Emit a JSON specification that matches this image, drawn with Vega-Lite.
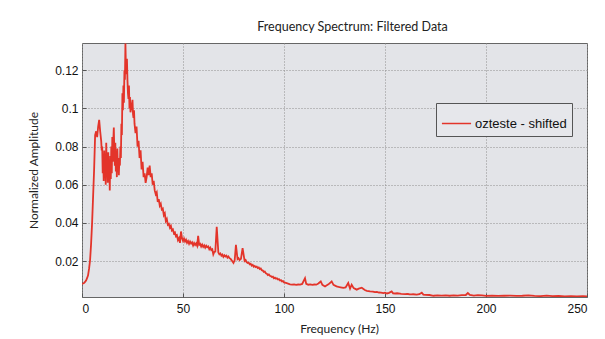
{
  "$schema": "https://vega.github.io/schema/vega-lite/v6.json",
  "width": 505,
  "height": 254,
  "autosize": {"type": "none"},
  "padding": {"left": 82, "top": 43, "right": 18, "bottom": 42},
  "background": "white",
  "title": {
    "text": "Frequency Spectrum: Filtered Data",
    "font": "Lato",
    "fontSize": 12.5,
    "fontWeight": "normal",
    "color": "#222",
    "anchor": "middle",
    "dx": 18,
    "offset": 10
  },
  "config": {
    "view": {"fill": "#e3e4e8", "stroke": "#666666", "strokeWidth": 1},
    "axis": {
      "domain": false,
      "grid": true,
      "gridColor": "#8f8f8f",
      "gridDash": [1, 2],
      "gridWidth": 1,
      "ticks": true,
      "tickColor": "#555",
      "tickSize": -4,
      "labelFont": "Liberation Sans",
      "labelFontSize": 12,
      "labelColor": "#111",
      "titleFont": "Lato",
      "titleFontSize": 12,
      "titleFontWeight": "normal",
      "titleColor": "#222"
    }
  },
  "data": {
    "values": [
      {"f": 0, "v": 0.0080}, {"f": 0.5, "v": 0.0082}, {"f": 1, "v": 0.0085}, {"f": 1.5, "v": 0.0090},
      {"f": 2, "v": 0.0098}, {"f": 2.5, "v": 0.0110}, {"f": 3, "v": 0.0125}, {"f": 3.5, "v": 0.0160},
      {"f": 4, "v": 0.0205}, {"f": 4.5, "v": 0.0290}, {"f": 5, "v": 0.0400}, {"f": 5.5, "v": 0.0540},
      {"f": 6, "v": 0.0680}, {"f": 6.5, "v": 0.0860}, {"f": 7, "v": 0.0880}, {"f": 7.5, "v": 0.0850},
      {"f": 8, "v": 0.0905}, {"f": 8.5, "v": 0.0940}, {"f": 9, "v": 0.0880}, {"f": 9.5, "v": 0.0830},
      {"f": 9.75, "v": 0.0780}, {"f": 10, "v": 0.0800}, {"f": 10.25, "v": 0.0660}, {"f": 10.5, "v": 0.0740},
      {"f": 10.75, "v": 0.0620}, {"f": 11, "v": 0.0780}, {"f": 11.25, "v": 0.0650}, {"f": 11.5, "v": 0.0720},
      {"f": 11.75, "v": 0.0600}, {"f": 12, "v": 0.0820}, {"f": 12.25, "v": 0.0680}, {"f": 12.5, "v": 0.0740},
      {"f": 12.75, "v": 0.0610}, {"f": 13, "v": 0.0770}, {"f": 13.25, "v": 0.0640}, {"f": 13.5, "v": 0.0700},
      {"f": 13.75, "v": 0.0570}, {"f": 14, "v": 0.0750}, {"f": 14.25, "v": 0.0630}, {"f": 14.5, "v": 0.0800},
      {"f": 14.75, "v": 0.0660}, {"f": 15, "v": 0.0850}, {"f": 15.25, "v": 0.0720}, {"f": 15.5, "v": 0.0830},
      {"f": 15.75, "v": 0.0900}, {"f": 16, "v": 0.0780}, {"f": 16.25, "v": 0.0700}, {"f": 16.5, "v": 0.0820},
      {"f": 16.75, "v": 0.0670}, {"f": 17, "v": 0.0760}, {"f": 17.25, "v": 0.0640}, {"f": 17.5, "v": 0.0790},
      {"f": 17.75, "v": 0.0680}, {"f": 18, "v": 0.0730}, {"f": 18.25, "v": 0.0650}, {"f": 18.5, "v": 0.0740},
      {"f": 18.75, "v": 0.0700}, {"f": 19, "v": 0.0800}, {"f": 19.25, "v": 0.0740}, {"f": 19.5, "v": 0.0920},
      {"f": 19.75, "v": 0.0860}, {"f": 20, "v": 0.1080}, {"f": 20.25, "v": 0.0990}, {"f": 20.5, "v": 0.1120},
      {"f": 20.75, "v": 0.1030}, {"f": 21, "v": 0.1200}, {"f": 21.25, "v": 0.1150}, {"f": 21.5, "v": 0.1340},
      {"f": 21.75, "v": 0.1210}, {"f": 22, "v": 0.1180}, {"f": 22.25, "v": 0.1260}, {"f": 22.5, "v": 0.1150},
      {"f": 22.75, "v": 0.1080}, {"f": 23, "v": 0.1050}, {"f": 23.25, "v": 0.1120}, {"f": 23.5, "v": 0.1000},
      {"f": 23.75, "v": 0.1060}, {"f": 24, "v": 0.0980}, {"f": 24.5, "v": 0.1010}, {"f": 25, "v": 0.1045},
      {"f": 25.25, "v": 0.0970}, {"f": 25.5, "v": 0.0950}, {"f": 25.75, "v": 0.0990},
      {"f": 26, "v": 0.0920}, {"f": 26.5, "v": 0.0870}, {"f": 27, "v": 0.0905}, {"f": 27.5, "v": 0.0800},
      {"f": 28, "v": 0.0830}, {"f": 28.5, "v": 0.0740}, {"f": 29, "v": 0.0780}, {"f": 29.5, "v": 0.0680},
      {"f": 30, "v": 0.0720}, {"f": 30.5, "v": 0.0640}, {"f": 31, "v": 0.0660}, {"f": 31.5, "v": 0.0610},
      {"f": 32, "v": 0.0640}, {"f": 32.5, "v": 0.0690}, {"f": 33, "v": 0.0650}, {"f": 33.5, "v": 0.0700},
      {"f": 34, "v": 0.0640}, {"f": 34.5, "v": 0.0660}, {"f": 35, "v": 0.0600}, {"f": 35.5, "v": 0.0620},
      {"f": 36, "v": 0.0570}, {"f": 36.5, "v": 0.0550}, {"f": 37, "v": 0.0560}, {"f": 37.5, "v": 0.0510},
      {"f": 38, "v": 0.0525}, {"f": 38.5, "v": 0.0490}, {"f": 39, "v": 0.0500}, {"f": 39.5, "v": 0.0470},
      {"f": 40, "v": 0.0475}, {"f": 40.5, "v": 0.0440}, {"f": 41, "v": 0.0450}, {"f": 41.5, "v": 0.0410},
      {"f": 42, "v": 0.0420}, {"f": 42.5, "v": 0.0390}, {"f": 43, "v": 0.0395}, {"f": 43.5, "v": 0.0375},
      {"f": 44, "v": 0.0385}, {"f": 44.5, "v": 0.0360}, {"f": 45, "v": 0.0365}, {"f": 45.5, "v": 0.0345},
      {"f": 46, "v": 0.0350}, {"f": 46.5, "v": 0.0330}, {"f": 47, "v": 0.0335}, {"f": 47.5, "v": 0.0310},
      {"f": 48, "v": 0.0320}, {"f": 48.5, "v": 0.0295}, {"f": 49, "v": 0.0355}, {"f": 49.5, "v": 0.0320},
      {"f": 50, "v": 0.0305}, {"f": 50.5, "v": 0.0318}, {"f": 51, "v": 0.0302}, {"f": 51.5, "v": 0.0312},
      {"f": 52, "v": 0.0296}, {"f": 52.5, "v": 0.0305}, {"f": 53, "v": 0.0290}, {"f": 53.5, "v": 0.0302},
      {"f": 54, "v": 0.0292}, {"f": 54.5, "v": 0.0298}, {"f": 55, "v": 0.0282}, {"f": 55.5, "v": 0.0294},
      {"f": 56, "v": 0.0284}, {"f": 56.5, "v": 0.0292}, {"f": 57, "v": 0.0280},
      {"f": 57.5, "v": 0.0332}, {"f": 58, "v": 0.0285}, {"f": 58.5, "v": 0.0290}, {"f": 59, "v": 0.0276},
      {"f": 59.5, "v": 0.0286}, {"f": 60, "v": 0.0274}, {"f": 60.5, "v": 0.0282},
      {"f": 61, "v": 0.0270}, {"f": 61.5, "v": 0.0280}, {"f": 62, "v": 0.0272}, {"f": 62.5, "v": 0.0276},
      {"f": 63, "v": 0.0262}, {"f": 63.5, "v": 0.0270}, {"f": 64, "v": 0.0258}, {"f": 64.5, "v": 0.0262},
      {"f": 65, "v": 0.0235}, {"f": 65.5, "v": 0.0248}, {"f": 66, "v": 0.0250}, {"f": 66.7, "v": 0.0380},
      {"f": 67.5, "v": 0.0245}, {"f": 68, "v": 0.0235}, {"f": 68.5, "v": 0.0240}, {"f": 69, "v": 0.0228},
      {"f": 69.5, "v": 0.0234}, {"f": 70, "v": 0.0222}, {"f": 70.5, "v": 0.0230}, {"f": 71, "v": 0.0224},
      {"f": 71.5, "v": 0.0228}, {"f": 72, "v": 0.0218}, {"f": 72.5, "v": 0.0224}, {"f": 73, "v": 0.0215},
      {"f": 73.5, "v": 0.0212}, {"f": 74, "v": 0.0205}, {"f": 74.5, "v": 0.0198}, {"f": 75, "v": 0.0190},
      {"f": 75.6, "v": 0.0205}, {"f": 76.2, "v": 0.0285}, {"f": 77, "v": 0.0210}, {"f": 77.5, "v": 0.0215},
      {"f": 78, "v": 0.0205}, {"f": 78.7, "v": 0.0212}, {"f": 79.5, "v": 0.0268},
      {"f": 80.5, "v": 0.0200}, {"f": 81, "v": 0.0205}, {"f": 81.5, "v": 0.0194}, {"f": 82, "v": 0.0190},
      {"f": 82.5, "v": 0.0192}, {"f": 83, "v": 0.0183}, {"f": 83.5, "v": 0.0186},
      {"f": 84, "v": 0.0176}, {"f": 84.5, "v": 0.0180}, {"f": 85, "v": 0.0170}, {"f": 85.5, "v": 0.0174},
      {"f": 86, "v": 0.0168}, {"f": 86.5, "v": 0.0171}, {"f": 87, "v": 0.0163}, {"f": 87.5, "v": 0.0166},
      {"f": 88, "v": 0.0158}, {"f": 88.5, "v": 0.0161}, {"f": 89, "v": 0.0152}, {"f": 89.5, "v": 0.0150},
      {"f": 90, "v": 0.0143}, {"f": 90.5, "v": 0.0145}, {"f": 91, "v": 0.0136}, {"f": 91.5, "v": 0.0134},
      {"f": 92, "v": 0.0127}, {"f": 92.5, "v": 0.0130}, {"f": 93, "v": 0.0123}, {"f": 93.5, "v": 0.0121},
      {"f": 94, "v": 0.0116}, {"f": 94.5, "v": 0.0118}, {"f": 95, "v": 0.0110}, {"f": 95.5, "v": 0.0113},
      {"f": 96, "v": 0.0108}, {"f": 96.5, "v": 0.0110}, {"f": 97, "v": 0.0103}, {"f": 97.5, "v": 0.0105},
      {"f": 98, "v": 0.0098}, {"f": 98.5, "v": 0.0100}, {"f": 99, "v": 0.0093}, {"f": 99.5, "v": 0.0095},
      {"f": 100, "v": 0.0088}, {"f": 101, "v": 0.0085}, {"f": 102, "v": 0.0082}, {"f": 103, "v": 0.0078},
      {"f": 104, "v": 0.0076}, {"f": 105, "v": 0.0078}, {"f": 106, "v": 0.0075}, {"f": 107, "v": 0.0077},
      {"f": 108, "v": 0.0076}, {"f": 109, "v": 0.0080}, {"f": 110.4, "v": 0.0110}, {"f": 111, "v": 0.0080},
      {"f": 112, "v": 0.0076}, {"f": 113, "v": 0.0078}, {"f": 114, "v": 0.0075}, {"f": 115, "v": 0.0077},
      {"f": 116, "v": 0.0076}, {"f": 117, "v": 0.0082}, {"f": 118.2, "v": 0.0093}, {"f": 119, "v": 0.0075},
      {"f": 120.3, "v": 0.0067}, {"f": 121, "v": 0.0072}, {"f": 122, "v": 0.0078}, {"f": 123.6, "v": 0.0093},
      {"f": 124.5, "v": 0.0075}, {"f": 126, "v": 0.0067}, {"f": 127, "v": 0.0064}, {"f": 128, "v": 0.0062},
      {"f": 129.4, "v": 0.0059}, {"f": 130.5, "v": 0.0062}, {"f": 131.8, "v": 0.0085}, {"f": 132.7, "v": 0.0055},
      {"f": 133.5, "v": 0.0076}, {"f": 134.5, "v": 0.0058}, {"f": 136, "v": 0.0050}, {"f": 137, "v": 0.0055},
      {"f": 138.5, "v": 0.0060}, {"f": 140, "v": 0.0048}, {"f": 141, "v": 0.0044}, {"f": 142.6, "v": 0.0041},
      {"f": 144, "v": 0.0040}, {"f": 145, "v": 0.0037}, {"f": 146, "v": 0.0038}, {"f": 147, "v": 0.0035},
      {"f": 148, "v": 0.0034}, {"f": 149.2, "v": 0.0032}, {"f": 150, "v": 0.0034}, {"f": 151, "v": 0.0030},
      {"f": 152, "v": 0.0033}, {"f": 153.3, "v": 0.0041}, {"f": 154, "v": 0.0031}, {"f": 155, "v": 0.0030},
      {"f": 156, "v": 0.0031}, {"f": 157.4, "v": 0.0029}, {"f": 158, "v": 0.0028}, {"f": 160, "v": 0.0027},
      {"f": 161, "v": 0.0028}, {"f": 162, "v": 0.0026}, {"f": 163, "v": 0.0025}, {"f": 164, "v": 0.0026},
      {"f": 165.7, "v": 0.0024}, {"f": 167, "v": 0.0026}, {"f": 168.2, "v": 0.0034}, {"f": 169, "v": 0.0024},
      {"f": 170, "v": 0.0023}, {"f": 172, "v": 0.0022}, {"f": 174, "v": 0.0018}, {"f": 176, "v": 0.0020},
      {"f": 178, "v": 0.0019}, {"f": 180, "v": 0.0020}, {"f": 182, "v": 0.0018}, {"f": 184, "v": 0.0020},
      {"f": 186, "v": 0.0019}, {"f": 188, "v": 0.0021}, {"f": 190, "v": 0.0022}, {"f": 191, "v": 0.0032},
      {"f": 192, "v": 0.0022}, {"f": 194, "v": 0.0019}, {"f": 196, "v": 0.0021}, {"f": 198, "v": 0.0020},
      {"f": 200, "v": 0.0017}, {"f": 203, "v": 0.0019}, {"f": 206, "v": 0.0017}, {"f": 209, "v": 0.0018},
      {"f": 212, "v": 0.0019}, {"f": 215, "v": 0.0017}, {"f": 218, "v": 0.0018}, {"f": 221, "v": 0.0020},
      {"f": 224, "v": 0.0017}, {"f": 227, "v": 0.0016}, {"f": 230, "v": 0.0019}, {"f": 233, "v": 0.0016},
      {"f": 236, "v": 0.0017}, {"f": 239, "v": 0.0015}, {"f": 242, "v": 0.0016}, {"f": 245, "v": 0.0015},
      {"f": 248, "v": 0.0016}, {"f": 250, "v": 0.0015}
    ]
  },
  "transform": [{"calculate": "'ozteste - shifted'", "as": "series"}],
  "mark": {"type": "line", "strokeWidth": 1.8, "clip": true},
  "encoding": {
    "x": {
      "field": "f",
      "type": "quantitative",
      "scale": {"domain": [0, 250], "nice": false, "zero": false},
      "axis": {
        "title": "Frequency (Hz)",
        "values": [0, 50, 100, 150, 200, 250],
        "labelPadding": 10,
        "titleX": 257,
        "titleY": 31,
        "titleBaseline": "middle"
      }
    },
    "y": {
      "field": "v",
      "type": "quantitative",
      "scale": {"domain": [0.00115, 0.1343], "nice": false, "zero": false},
      "axis": {
        "title": "Normalized Amplitude",
        "values": [0.02, 0.04, 0.06, 0.08, 0.1, 0.12],
        "format": "~g",
        "labelPadding": 8,
        "titleX": -49,
        "titleY": 127,
        "titleAngle": -90,
        "titleAlign": "center",
        "titleBaseline": "middle"
      }
    },
    "color": {
      "field": "series",
      "type": "nominal",
      "scale": {"range": ["#e3342a"]},
      "legend": {
        "title": null,
        "orient": "none",
        "legendX": 354,
        "legendY": 60,
        "strokeColor": "#555555",
        "fillColor": "#e6e7eb",
        "padding": 5,
        "symbolType": "stroke",
        "symbolSize": 850,
        "symbolStrokeWidth": 1.5,
        "labelFont": "Liberation Sans",
        "labelFontSize": 13,
        "labelColor": "#111",
        "labelOffset": 3
      }
    }
  }
}
